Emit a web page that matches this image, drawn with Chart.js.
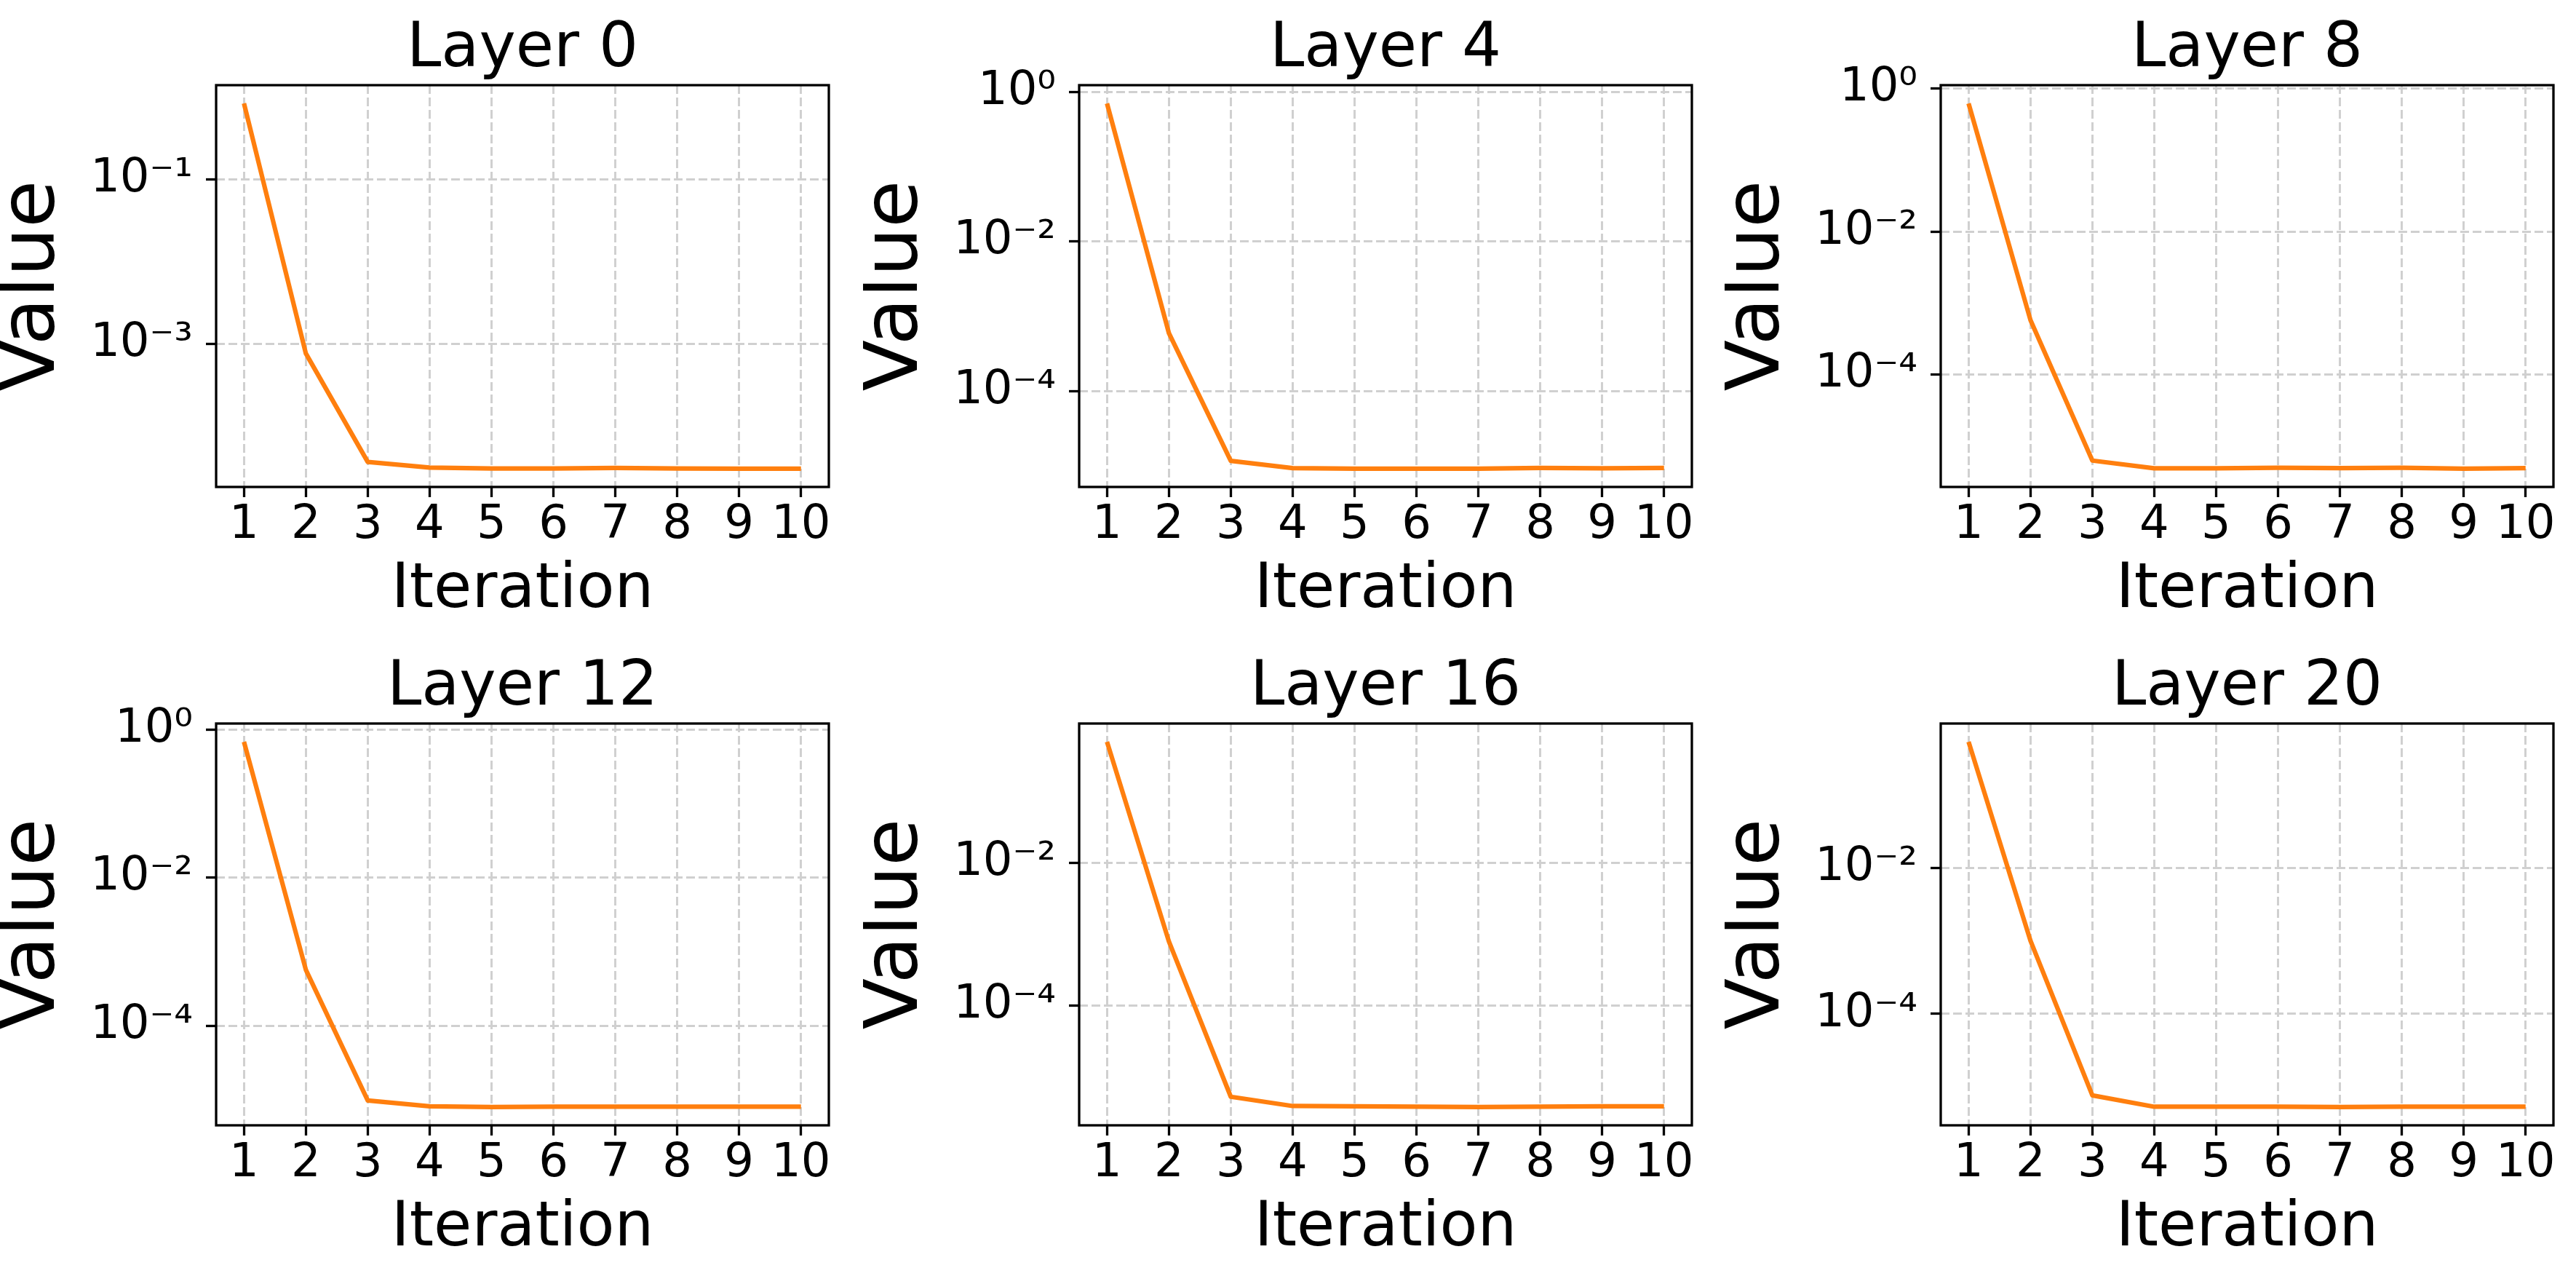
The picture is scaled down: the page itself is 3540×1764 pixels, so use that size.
<!DOCTYPE html>
<html>
<head>
<meta charset="utf-8">
<script src="https://cdn.jsdelivr.net/npm/chart.js@4.4.1/dist/chart.umd.min.js"></script>
<style>
html, body { margin: 0; padding: 0; background: #ffffff; overflow: hidden; width: 3540px; height: 1764px; }
canvas { position: absolute; }
</style>
</head>
<body>
<canvas id="c0"></canvas>
<canvas id="c1"></canvas>
<canvas id="c2"></canvas>
<canvas id="c3"></canvas>
<canvas id="c4"></canvas>
<canvas id="c5"></canvas>
<script>
// ---- data ----
const iterations = [1, 2, 3, 4, 5, 6, 7, 8, 9, 10];
const layerTitles = ['Layer 0', 'Layer 4', 'Layer 8', 'Layer 12', 'Layer 16', 'Layer 20'];

const layer0Values  = [0.83, 7.6e-4, 3.66e-5, 3.12e-5, 3.05e-5, 3.05e-5, 3.1e-5, 3.05e-5, 3.03e-5, 3.03e-5];
const layer4Values  = [0.70, 5.97e-4, 1.17e-5, 9.35e-6, 9.2e-6, 9.2e-6, 9.2e-6, 9.4e-6, 9.3e-6, 9.4e-6];
const layer8Values  = [0.62, 5.8e-4, 6.3e-6, 4.9e-6, 4.9e-6, 5.0e-6, 4.95e-6, 5.0e-6, 4.85e-6, 4.95e-6];
const layer12Values = [0.68, 5.7e-4, 9.8e-6, 8.2e-6, 8.0e-6, 8.1e-6, 8.1e-6, 8.1e-6, 8.1e-6, 8.1e-6];
const layer16Values = [0.49, 7.9e-4, 5.3e-6, 3.93e-6, 3.9e-6, 3.85e-6, 3.8e-6, 3.85e-6, 3.9e-6, 3.9e-6];
const layer20Values = [0.545, 1.01e-3, 7.6e-6, 5.3e-6, 5.3e-6, 5.3e-6, 5.25e-6, 5.3e-6, 5.3e-6, 5.3e-6];

// y tick labels (powers of ten shown on each panel)
const yTicksLayer0  = [-1, -3];
const yTicksLayer4  = [0, -2, -4];
const yTicksLayer8  = [0, -2, -4];
const yTicksLayer12 = [0, -2, -4];
const yTicksLayer16 = [-2, -4];
const yTicksLayer20 = [-2, -4];

const xLabel = 'Iteration';
const yLabel = 'Value';

// ---- layout ----
const panels = [
  { id: 'c0', title: layerTitles[0], values: layer0Values,  ticks: yTicksLayer0,  left: 0,    top: 0 },
  { id: 'c1', title: layerTitles[1], values: layer4Values,  ticks: yTicksLayer4,  left: 1186, top: 0 },
  { id: 'c2', title: layerTitles[2], values: layer8Values,  ticks: yTicksLayer8,  left: 2370, top: 0 },
  { id: 'c3', title: layerTitles[3], values: layer12Values, ticks: yTicksLayer12, left: 0,    top: 877 },
  { id: 'c4', title: layerTitles[4], values: layer16Values, ticks: yTicksLayer16, left: 1186, top: 877 },
  { id: 'c5', title: layerTitles[5], values: layer20Values, ticks: yTicksLayer20, left: 2370, top: 877 }
];
const CANVAS_W = 1169, CANVAS_H = 877;
const Y_AXIS_W = 297, X_AXIS_H = 208;
const FONT = "'DejaVu Sans', sans-serif";

const SUP = { '0': '\u2070', '1': '\u00B9', '2': '\u00B2', '3': '\u00B3', '4': '\u2074', '5': '\u2075', '6': '\u2076', '7': '\u2077', '8': '\u2078', '9': '\u2079', '-': '\u207B' };
function pow10Label(v) {
  const e = Math.round(Math.log10(v));
  return '10' + String(e).split('').map(c => SUP[c]).join('');
}

const framePlugin = {
  id: 'frame',
  afterDraw(chart) {
    const { ctx, chartArea: a } = chart;
    ctx.save();
    ctx.strokeStyle = '#000000';
    ctx.lineWidth = 3.3;
    ctx.setLineDash([]);
    ctx.strokeRect(a.left, a.top, a.right - a.left, a.bottom - a.top);
    ctx.restore();
  }
};

const gridOpts = {
  color: '#d0d0d0',
  lineWidth: 3,
  drawOnChartArea: true,
  drawTicks: true,
  tickLength: 14,
  tickColor: '#000000',
  tickWidth: 3.3,
  tickBorderDash: []
};
const borderOpts = { display: false, dash: [12, 5] };

panels.forEach(p => {
  const cv = document.getElementById(p.id);
  cv.width = CANVAS_W; cv.height = CANVAS_H;
  cv.style.width = CANVAS_W + 'px'; cv.style.height = CANVAS_H + 'px';
  cv.style.left = p.left + 'px'; cv.style.top = p.top + 'px';

  // matplotlib-like 5% margins (log space for y)
  const logs = p.values.map(v => Math.log10(v));
  const lo = Math.min(...logs), hi = Math.max(...logs), span = hi - lo;
  const yMin = Math.pow(10, lo - 0.05 * span), yMax = Math.pow(10, hi + 0.05 * span);
  const xSpan = iterations[iterations.length - 1] - iterations[0];
  const xMin = iterations[0] - 0.05 * xSpan, xMax = iterations[iterations.length - 1] + 0.05 * xSpan;

  new Chart(cv, {
    type: 'line',
    data: {
      datasets: [{
        data: p.values.map((v, i) => ({ x: iterations[i], y: v })),
        borderColor: '#ff7f0e',
        borderWidth: 6.25,
        pointRadius: 0,
        tension: 0,
        fill: false,
        borderCapStyle: 'butt',
        borderJoinStyle: 'round'
      }]
    },
    options: {
      responsive: false,
      animation: false,
      devicePixelRatio: 1,
      events: [],
      layout: { padding: { left: 0, right: 30, top: 0, bottom: 0 } },
      plugins: {
        legend: { display: false },
        tooltip: { enabled: false },
        title: {
          display: true, text: p.title, fullSize: false, color: '#000000',
          font: { family: FONT, size: 85, weight: 'normal', lineHeight: 1.1 },
          padding: { top: 22, bottom: 1.5 }
        }
      },
      scales: {
        x: {
          type: 'linear', position: 'bottom', min: xMin, max: xMax, bounds: 'data',
          afterBuildTicks: s => { s.ticks = iterations.map(v => ({ value: v })); },
          afterFit: s => { s.height = X_AXIS_H; },
          ticks: {
            color: '#000000', font: { family: FONT, size: 64, lineHeight: 1.2 }, padding: 1,
            maxRotation: 0, minRotation: 0, autoSkip: false,
            callback: v => String(v)
          },
          grid: gridOpts,
          border: borderOpts,
          title: {
            display: true, text: xLabel, color: '#000000',
            font: { family: FONT, size: 85, lineHeight: 1.2 },
            padding: { top: 0, bottom: 14 }
          }
        },
        y: {
          type: 'logarithmic', position: 'left', min: yMin, max: yMax, bounds: 'data',
          afterBuildTicks: s => { s.ticks = p.ticks.map(e => ({ value: Math.pow(10, e) })); },
          afterFit: s => { s.width = Y_AXIS_W; },
          ticks: {
            color: '#000000', font: { family: FONT, size: 64, lineHeight: 1.2 }, padding: 18,
            autoSkip: false, callback: v => pow10Label(v)
          },
          grid: gridOpts,
          border: borderOpts,
          title: {
            display: true, text: yLabel, color: '#000000',
            font: { family: FONT, size: 106, lineHeight: 0.8 },
            padding: { top: 4, bottom: 0 }
          }
        }
      }
    },
    plugins: [framePlugin]
  });
});
</script>
</body>
</html>
